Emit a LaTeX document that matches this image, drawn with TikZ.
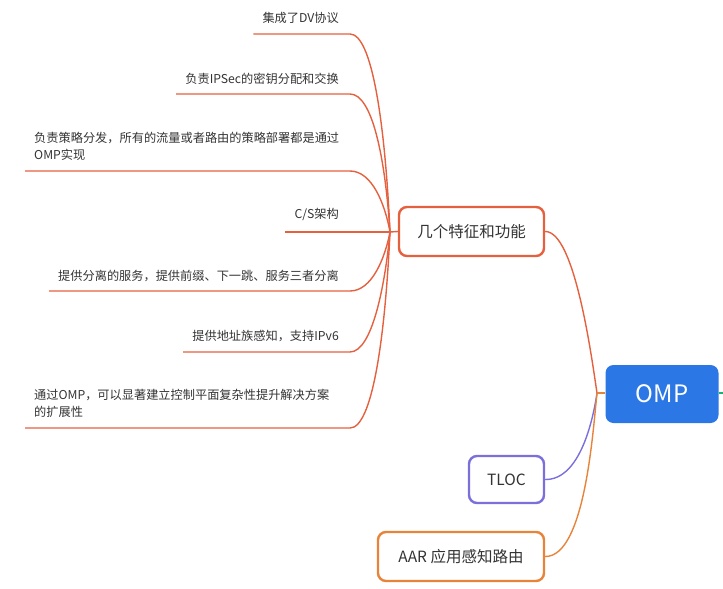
\documentclass[tikz,border=0pt]{standalone}
\usepackage{fontspec}
\setmainfont{Noto Sans CJK SC}
\usetikzlibrary{calc}
\definecolor{redc}{HTML}{E5603F}
\definecolor{purc}{HTML}{7B6FDB}
\definecolor{orac}{HTML}{E8833A}
\definecolor{bluc}{HTML}{2B77E6}
\definecolor{grec}{HTML}{1FAF6E}
\definecolor{txtc}{HTML}{333333}
\begin{document}
\begin{tikzpicture}[x=1pt,y=-1pt,
  leaf/.style={inner sep=0pt, text=txtc, font=\fontsize{12.2}{17}\selectfont},
  leafline/.style={draw=redc, line width=1.4pt},
  branchbox/.style={draw=#1, line width=2.4pt, fill=white, rounded corners=8pt, text=txtc, font=\fontsize{15.5}{18}\selectfont, inner sep=0pt},
  conn/.style={draw=#1, line width=1.4pt}]
\useasboundingbox (0,0) rectangle (723,589);

\coordinate (jF) at (390,232);
\coordinate (jO) at (597,393);

% leaves
\node[leaf, anchor=base east] (f1) at (339,22.5) {集成了DV协议};
\coordinate (e1) at (350,34);
\draw[leafline] ($(f1.west |- e1)+(-9,0)$) -- (e1) .. controls (372,34) and (385,123) .. (jF);

\node[leaf, anchor=base east] (f2) at (339,83.5) {负责IPSec的密钥分配和交换};
\coordinate (e2) at (350,94);
\draw[leafline] ($(f2.west |- e2)+(-9,0)$) -- (e2) .. controls (372,94) and (385,156) .. (jF);

\node[leaf, anchor=north west, align=left] (f3) at (34,132) {负责策略分发，所有的流量或者路由的策略部署都是通过\\OMP实现};
\coordinate (e3) at (350,171);
\draw[leafline] ($(f3.west |- e3)+(-9,0)$) -- (e3) .. controls (372,171) and (385,204) .. (jF);

\node[leaf, anchor=base east] (f4) at (339,218.5) {C/S架构};
\draw[leafline] ($(f4.west |- jF)+(-9,0)$) -- (jF);

\node[leaf, anchor=base east] (f5) at (339,280.5) {提供分离的服务，提供前缀、下一跳、服务三者分离};
\coordinate (e5) at (350,291);
\draw[leafline] ($(f5.west |- e5)+(-9,0)$) -- (e5) .. controls (372,291) and (385,258) .. (jF);

\node[leaf, anchor=base east] (f6) at (339,340.5) {提供地址族感知，支持IPv6};
\coordinate (e6) at (350,352);
\draw[leafline] ($(f6.west |- e6)+(-9,0)$) -- (e6) .. controls (372,352) and (385,286) .. (jF);

\node[leaf, anchor=north west, align=left] (f7) at (34,389) {通过OMP，可以显著建立控制平面复杂性提升解决方案\\的扩展性};
\coordinate (e7) at (350,428);
\draw[leafline] ($(f7.west |- e7)+(-9,0)$) -- (e7) .. controls (372,428) and (385,340) .. (jF);

% main nodes
\node[fill=bluc, rounded corners=8pt, minimum width=113pt, minimum height=58pt, inner sep=0pt, text=white, font=\fontsize{24}{28}\selectfont] (omp) at (662,394) {OMP};
\node[branchbox=redc, minimum width=145pt, minimum height=49pt] (feat) at (471.5,231.5) {几个特征和功能};
\node[branchbox=purc, minimum width=75pt, minimum height=47pt] (tloc) at (506.5,479.5) {TLOC};
\node[branchbox=orac, minimum width=166pt, minimum height=49pt] (aar) at (461,556.5) {AAR 应用感知路由};

% connectors
\draw[conn=redc] (jF) -- (feat.west);
\draw[conn=redc] (feat.east) .. controls (575,231) and (592,360) .. (jO);
\draw[conn=purc] (tloc.east) .. controls (580,480) and (593,420) .. (jO);
\draw[conn=orac] (aar.east) .. controls (585,557) and (593,430) .. (jO);
\draw[conn=orac] (jO) -- (omp.west |- jO);
\coordinate (gr) at (723,393);
\draw[conn=grec] (omp.east |- gr) -- (gr);
\end{tikzpicture}
\end{document}
